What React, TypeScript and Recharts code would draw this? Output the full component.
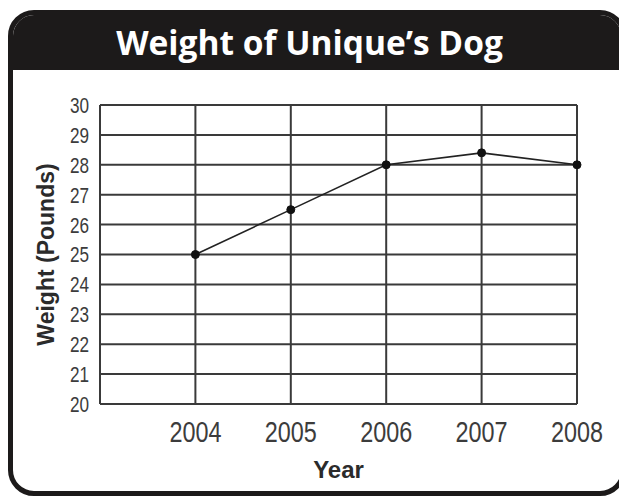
import { CartesianGrid, Label, Line, LineChart, XAxis, YAxis } from 'recharts';

const years = [2004, 2005, 2006, 2007, 2008];
const weights = [25, 26.5, 28, 28.4, 28];
const xTicks = [2003, 2004, 2005, 2006, 2007, 2008];
const yTicks = [20, 21, 22, 23, 24, 25, 26, 27, 28, 29, 30];

const data = years.map((year, i) => ({ year, weight: weights[i] }));

const SANS = '"Liberation Sans", Arial, sans-serif';
const INK = '#2b2b2b';
const TICK = '#3c3c3c';

// condensed-looking tick labels: plain sans squeezed horizontally
function XTick({ x, y, payload }: any) {
  if (payload.value === 2003) return null;
  return (
    <g transform={`translate(${x},${y})`}>
      <text transform="scale(0.78,1)" textAnchor="middle" dy="0.72em" fill={TICK} fontSize={30} fontFamily={SANS}>
        {payload.value}
      </text>
    </g>
  );
}

function YTick({ x, y, payload }: any) {
  return (
    <g transform={`translate(${x},${y})`}>
      <text transform="scale(0.78,1)" textAnchor="end" dy="0.36em" fill={TICK} fontSize={22} fontFamily={SANS}>
        {payload.value}
      </text>
    </g>
  );
}

export default function App() {
  return (
    <div style={{ position: 'relative', width: 619, height: 489 }}>
      {/* frame with rounded corners and black title bar */}
      <div
        style={{
          position: 'absolute',
          left: 0,
          top: 2,
          width: 618,
          height: 486,
          boxSizing: 'border-box',
          border: '5px solid #1c1a1a',
          borderRadius: 26,
          overflow: 'hidden',
          background: '#fff',
        }}
      >
        <div
          style={{
            height: 55,
            background: '#1c1a1a',
            color: '#fff',
            fontFamily: '"Open Sans", sans-serif',
            fontWeight: 700,
            fontSize: 33.5,
            lineHeight: '54px',
            textAlign: 'center',
            paddingRight: 15,
          }}
        >
          Weight of Unique’s Dog
        </div>
      </div>

      <div style={{ position: 'absolute', left: 0, top: 0 }}>
        <LineChart
          width={619}
          height={489}
          data={data}
          margin={{ top: 97, right: 50, bottom: 63, left: 52 }}
        >
          <CartesianGrid
            stroke="#3a3a3a"
            strokeWidth={2}
            horizontalValues={yTicks}
            verticalValues={xTicks}
          />
          <XAxis
            dataKey="year"
            type="number"
            domain={[2003, 2008]}
            ticks={xTicks}
            axisLine={false}
            tickLine={false}
            tickMargin={10}
            height={30}
            tick={<XTick />}
          >
            <Label
              value="Year"
              position="bottom"
              offset={27}
              style={{ fill: INK, fontSize: 24, fontWeight: 700, fontFamily: SANS }}
            />
          </XAxis>
          <YAxis
            type="number"
            domain={[20, 30]}
            ticks={yTicks}
            interval={0}
            axisLine={false}
            tickLine={false}
            tickMargin={5}
            width={40}
            tick={<YTick />}
          >
            <Label
              value="Weight (Pounds)"
              angle={-90}
              position="center"
              dx={-34}
              style={{ fill: INK, fontSize: 23, fontWeight: 700, fontFamily: SANS }}
            />
          </YAxis>
          <Line
            dataKey="weight"
            stroke="#222"
            strokeWidth={1.6}
            dot={{ r: 4, fill: '#111', stroke: '#111', strokeWidth: 1 }}
            isAnimationActive={false}
          />
        </LineChart>
      </div>
    </div>
  );
}
